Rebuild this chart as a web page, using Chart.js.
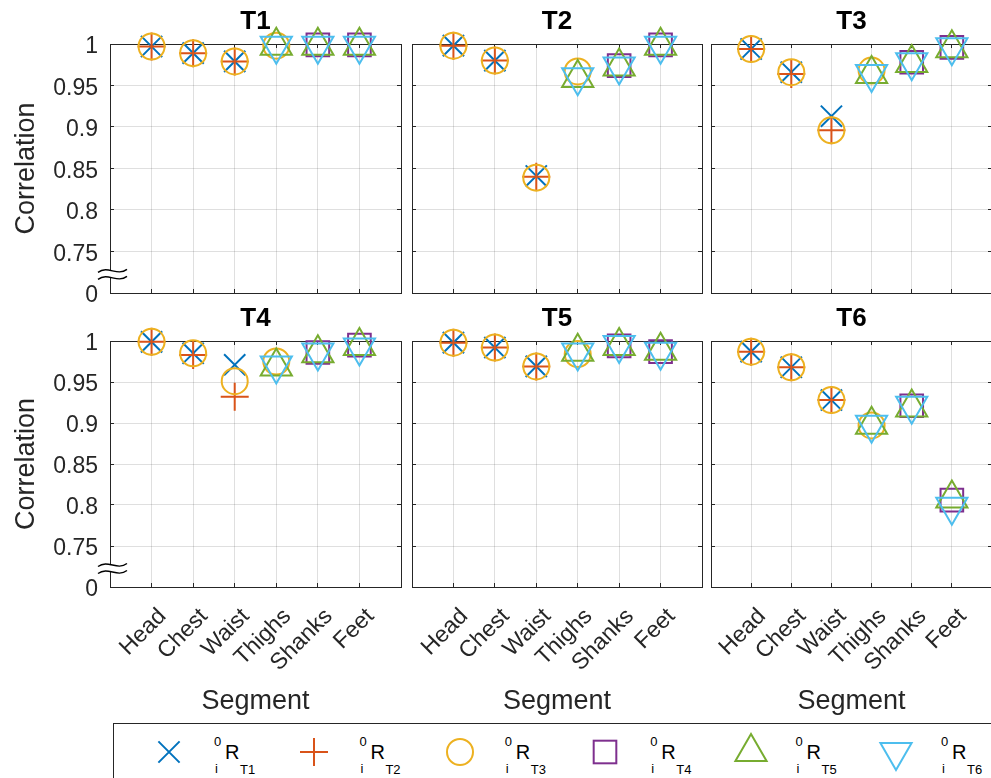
<!DOCTYPE html>
<html>
<head>
<meta charset="utf-8">
<title>Segment correlation per trial</title>
<script src="https://cdn.jsdelivr.net/npm/chart.js@4.4.1/dist/chart.umd.min.js"></script>
<style>
  html, body { margin: 0; padding: 0; width: 991px; height: 778px; overflow: hidden; background: #fff; }
  #fig { position: relative; width: 1012px; height: 800px; font-family: 'Liberation Sans', Arial, Helvetica, sans-serif; color: #262626; }
  #fig canvas { position: absolute; left: 0; top: 0; }
  #legend { position: absolute; left: 113px; top: 723px; width: 900px; height: 80px; border: 1px solid #262626; background: #fff; box-sizing: border-box; }
  .lg { position: absolute; line-height: 1; white-space: nowrap; color: #000; }
  .lg-svg { position: absolute; overflow: visible; }
</style>
</head>
<body>
<div id="fig">
  <div id="legend"></div>
</div>
<script>
// ---- data -------------------------------------------------------------
const segments = ['Head', 'Chest', 'Waist', 'Thighs', 'Shanks', 'Feet'];
const panelTitles = ['T1', 'T2', 'T3', 'T4', 'T5', 'T6'];
const seriesSubscripts = ['T1', 'T2', 'T3', 'T4', 'T5', 'T6'];
const yTickValues = [0.70, 0.75, 0.80, 0.85, 0.90, 0.95, 1.00];
const yTickLabels = ['0', '0.75', '0.8', '0.85', '0.9', '0.95', '1'];
const yBreakValue = 0.7225;

// one row per series (⁰ᵢR_T1 … ⁰ᵢR_T6), one column per segment; null = not measured
const corrT1 = [
  [0.997, 0.989, 0.979, null, null, null],
  [0.997, 0.989, 0.979, null, null, null],
  [0.997, 0.989, 0.979, 0.998, null, null],
  [null, null, null, null, 0.999, 0.999],
  [null, null, null, 0.998, 0.998, 0.998],
  [null, null, null, 0.998, 0.998, 0.998]
];
const corrT2 = [
  [0.998, 0.980, 0.841, null, null, null],
  [0.998, 0.980, 0.840, null, null, null],
  [0.998, 0.980, 0.839, 0.967, null, null],
  [null, null, null, null, 0.974, 0.999],
  [null, null, null, 0.959, 0.973, 0.998],
  [null, null, null, 0.960, 0.973, 0.998]
];
const corrT3 = [
  [0.994, 0.966, 0.913, null, null, null],
  [0.994, 0.964, 0.896, null, null, null],
  [0.994, 0.966, 0.896, 0.968, null, null],
  [null, null, null, null, 0.978, 0.996],
  [null, null, null, 0.964, 0.977, 0.995],
  [null, null, null, 0.964, 0.978, 0.996]
];
const corrT4 = [
  [0.999, 0.985, 0.971, null, null, null],
  [0.999, 0.983, 0.932, null, null, null],
  [0.999, 0.985, 0.951, 0.975, null, null],
  [null, null, null, null, 0.986, 0.995],
  [null, null, null, 0.969, 0.985, 0.994],
  [null, null, null, 0.970, 0.986, 0.992]
];
const corrT5 = [
  [0.998, 0.992, 0.969, null, null, null],
  [0.998, 0.992, 0.969, null, null, null],
  [0.998, 0.992, 0.969, 0.984, null, null],
  [null, null, null, null, 0.994, 0.987],
  [null, null, null, 0.987, 0.994, 0.988],
  [null, null, null, 0.986, 0.995, 0.987]
];
const corrT6 = [
  [0.987, 0.968, 0.928, null, null, null],
  [0.987, 0.968, 0.928, null, null, null],
  [0.987, 0.968, 0.928, 0.897, null, null],
  [null, null, null, null, 0.921, 0.806],
  [null, null, null, 0.898, 0.919, 0.808],
  [null, null, null, 0.898, 0.921, 0.798]
];
const panels = [corrT1, corrT2, corrT3, corrT4, corrT5, corrT6];

// ---- styling ----------------------------------------------------------
const FONT = "'Liberation Sans', Arial, Helvetica, sans-serif";
const INK = '#262626';
const GRID = 'rgba(38,38,38,0.15)';
const seriesColors = ['#0072BD', '#D95319', '#EDB120', '#7E2F8E', '#77AC30', '#4DBEEE'];
const seriesMarkers = [
  { style: 'crossRot', radius: 15, rotation: 0 },
  { style: 'cross', radius: 14, rotation: 0 },
  { style: 'circle', radius: 13, rotation: 0 },
  { style: 'rect', radius: 16, rotation: 0 },
  { style: 'triangle', radius: 18, rotation: 0 },
  { style: 'triangle', radius: 18, rotation: 180 }
];

// figure geometry (plot areas of the 2x3 grid)
const FIG_W = 1012, FIG_H = 800;
const COLS = [[110, 401], [412, 702], [711, 1001]];
const ROWS = [[44, 293], [341, 587]];
const TITLE_SIZE = 26, TITLE_GAP = 6.4;
const X_AXIS_H = 131;

Chart.defaults.font.family = FONT;
Chart.defaults.color = INK;

const alignPx = v => Math.round(v - 0.5) + 0.5;

// box, inward tick marks and the axis-break sign
const framePlugin = {
  id: 'frame',
  beforeDatasetsDraw(chart, args, opts) {
    const { ctx, chartArea: a, scales: { x, y } } = chart;
    ctx.save();
    ctx.strokeStyle = INK;
    ctx.lineWidth = 1;
    ctx.beginPath();
    x.ticks.forEach(t => {
      const px = alignPx(x.getPixelForValue(t.value));
      ctx.moveTo(px, a.bottom); ctx.lineTo(px, a.bottom - 4);
      ctx.moveTo(px, a.top); ctx.lineTo(px, a.top + 4);
    });
    y.ticks.forEach(t => {
      const py = alignPx(y.getPixelForValue(t.value));
      ctx.moveTo(a.left, py); ctx.lineTo(a.left + 4, py);
      ctx.moveTo(a.right, py); ctx.lineTo(a.right - 4, py);
    });
    ctx.stroke();
    const l = alignPx(a.left), r = alignPx(a.right), t = alignPx(a.top), b = alignPx(a.bottom);
    ctx.strokeRect(l, t, r - l, b - t);

    if (opts.axisBreak) {
      const yc = y.getPixelForValue(yBreakValue);
      const x0 = a.left - 12, x1 = a.left + 17, w = x1 - x0;
      ctx.fillStyle = '#fff';
      ctx.fillRect(a.left - 1, yc - 3.5, 3, 7);
      ctx.strokeStyle = '#000';
      ctx.lineWidth = 1.4;
      [-3.5, 3.5].forEach(dy => {
        const yb = yc + dy;
        ctx.beginPath();
        ctx.moveTo(x0, yb + 1.5);
        ctx.bezierCurveTo(x0 + w * 0.35, yb - 6, x0 + w * 0.65, yb + 6, x1, yb - 1.5);
        ctx.stroke();
      });
    }
    ctx.restore();
  }
};

const fig = document.getElementById('fig');

panels.forEach((rowsOfSeries, p) => {
  const row = Math.floor(p / 3), col = p % 3;
  const [L, R] = COLS[col];
  const [T, B] = ROWS[row];
  const isLeft = col === 0, isBottom = row === 1;
  const xAxisH = isBottom ? X_AXIS_H : 0;

  const canvas = document.createElement('canvas');
  canvas.width = FIG_W;
  canvas.height = FIG_H;
  fig.insertBefore(canvas, document.getElementById('legend'));

  const datasets = rowsOfSeries.map((vals, s) => ({
    label: '⁰ᵢR ' + seriesSubscripts[s],
    data: vals.map((v, i) => (v === null ? null : { x: i + 1, y: v })).filter(d => d !== null),
    showLine: false,
    pointStyle: seriesMarkers[s].style,
    pointRadius: seriesMarkers[s].radius,
    pointRotation: seriesMarkers[s].rotation,
    pointBorderWidth: 2,
    pointBorderColor: seriesColors[s],
    pointBackgroundColor: 'rgba(0,0,0,0)',
    borderColor: seriesColors[s],
    backgroundColor: 'rgba(0,0,0,0)',
    clip: false,
    order: 5 - s
  }));

  new Chart(canvas, {
    type: 'scatter',
    data: { datasets },
    plugins: [framePlugin],
    options: {
      responsive: false,
      devicePixelRatio: 1,
      animation: false,
      events: [],
      layout: {
        padding: {
          left: 0,
          right: FIG_W - R,
          top: T - (TITLE_SIZE * 1.2 + TITLE_GAP),
          bottom: FIG_H - B - xAxisH
        }
      },
      plugins: {
        legend: { display: false },
        tooltip: { enabled: false },
        title: {
          display: true,
          text: panelTitles[p],
          fullSize: false,
          color: '#000',
          font: { size: TITLE_SIZE, weight: 'bold' },
          padding: { top: 0, bottom: TITLE_GAP }
        },
        frame: { axisBreak: isLeft }
      },
      scales: {
        x: {
          type: 'linear',
          min: 0,
          max: segments.length + 1,
          afterBuildTicks: sc => { sc.ticks = segments.map((_, i) => ({ value: i + 1 })); },
          afterFit: sc => { sc.height = xAxisH; },
          grid: { color: GRID, drawTicks: false },
          border: { display: false },
          ticks: {
            display: isBottom,
            autoSkip: false,
            minRotation: 45,
            maxRotation: 45,
            padding: 16,
            labelOffset: 11,
            color: INK,
            font: { size: 23 },
            callback: (v, i) => segments[i]
          },
          title: {
            display: isBottom,
            text: 'Segment',
            color: INK,
            font: { size: 27 },
            padding: { top: 0, bottom: 0 }
          }
        },
        y: {
          type: 'linear',
          min: yTickValues[0],
          max: yTickValues[yTickValues.length - 1],
          afterBuildTicks: sc => { sc.ticks = yTickValues.map(v => ({ value: v })); },
          afterFit: sc => { sc.width = L; },
          grid: { color: GRID, drawTicks: false },
          border: { display: false },
          ticks: {
            display: isLeft,
            padding: 12,
            labelOffset: 3,
            color: INK,
            font: { size: 23 },
            callback: (v, i) => yTickLabels[i]
          },
          title: {
            display: isLeft,
            text: 'Correlation',
            color: INK,
            font: { size: 27 },
            padding: { top: 10, bottom: 0 }
          }
        }
      }
    }
  });
});

// ---- legend -----------------------------------------------------------
const LEG_X0 = 169, LEG_DX = 145.4, LEG_Y = 752;

function markerSvg(s) {
  const m = seriesMarkers[s], c = seriesColors[s], r = m.radius;
  let shape = '';
  if (m.style === 'crossRot') {
    const d = r * Math.SQRT1_2;
    shape = `<path d="M${-d},${-d}L${d},${d}M${d},${-d}L${-d},${d}"/>`;
  } else if (m.style === 'cross') {
    shape = `<path d="M${-r},0L${r},0M0,${-r}L0,${r}"/>`;
  } else if (m.style === 'circle') {
    shape = `<circle cx="0" cy="0" r="${r}"/>`;
  } else if (m.style === 'rect') {
    const h = r * Math.SQRT1_2;
    shape = `<rect x="${-h}" y="${-h}" width="${2 * h}" height="${2 * h}"/>`;
  } else {
    const pts = [0, 120, 240].map(a => {
      const ang = (a + m.rotation) * Math.PI / 180;
      return `${(Math.sin(ang) * r).toFixed(2)},${(-Math.cos(ang) * r).toFixed(2)}`;
    }).join(' ');
    shape = `<polygon points="${pts}"/>`;
  }
  const box = 2 * r + 4;
  return `<svg class="lg-svg" width="${box}" height="${box}" viewBox="${-r - 2} ${-r - 2} ${box} ${box}" ` +
         `style="left:${-r - 2}px;top:${-r - 2}px" fill="none" stroke="${c}" stroke-width="2">${shape}</svg>`;
}

seriesSubscripts.forEach((sub, s) => {
  const cx = LEG_X0 + s * LEG_DX;
  const svgWrap = document.createElement('div');
  svgWrap.style.cssText = `position:absolute;left:${cx}px;top:${LEG_Y}px;width:0;height:0;`;
  svgWrap.innerHTML = markerSvg(s);
  fig.appendChild(svgWrap);

  // label ⁰ᵢR with subscript Tn
  const tx = cx + 45;
  const parts = [
    { t: '0', size: 13, left: tx, base: 746 },
    { t: 'i', size: 13, left: tx + 1, base: 773 },
    { t: 'R', size: 20, left: tx + 11, base: 759 },
    { t: sub, size: 13, left: tx + 26, base: 774 }
  ];
  parts.forEach(pt => {
    const span = document.createElement('span');
    span.className = 'lg';
    span.textContent = pt.t;
    span.style.fontSize = pt.size + 'px';
    span.style.left = pt.left + 'px';
    span.style.top = (pt.base - 0.8465 * pt.size) + 'px';
    fig.appendChild(span);
  });
});
</script>
</body>
</html>
